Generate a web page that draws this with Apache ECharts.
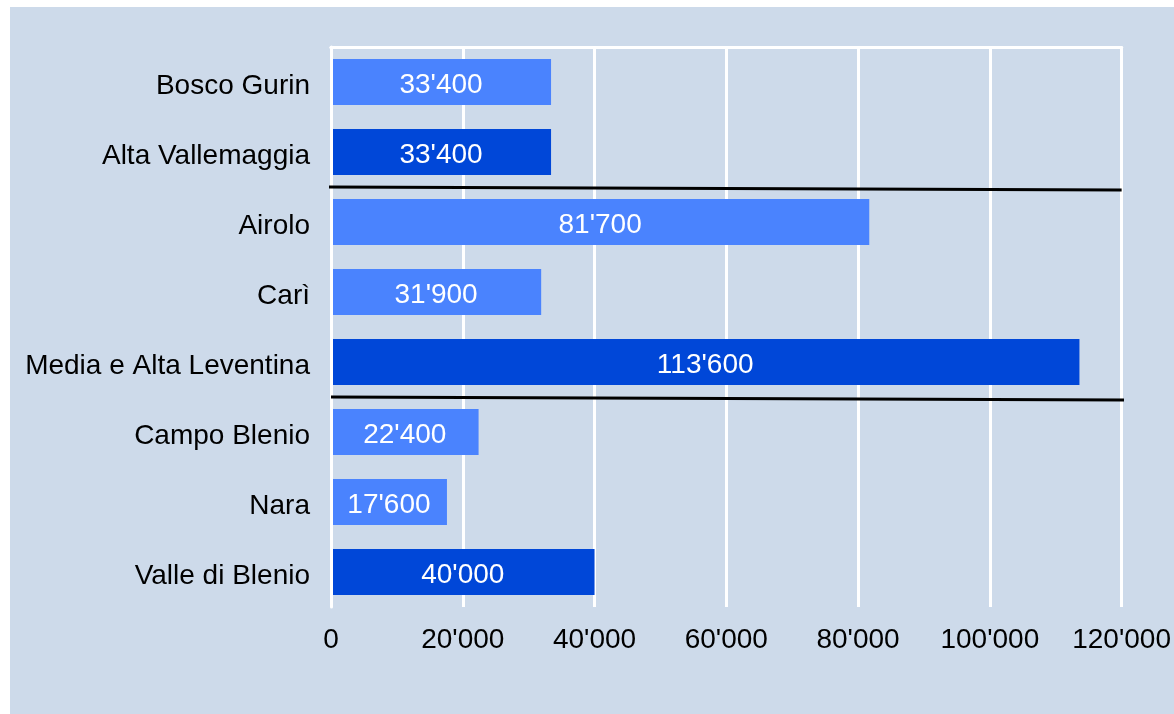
<!DOCTYPE html>
<html><head><meta charset="utf-8">
<script src="https://cdn.jsdelivr.net/npm/echarts@6/dist/echarts.min.js"></script>
<style>html,body{margin:0;padding:0;background:#fff}#c{width:1174px;height:714px}</style>
</head><body><div id="c"></div>
<script>
const categories = ['Bosco Gurin','Alta Vallemaggia','Airolo','Carì','Media e Alta Leventina','Campo Blenio','Nara','Valle di Blenio'];
const communeValues = [33400, '-', 81700, 31900, '-', 22400, 17600, '-'];
const regionValues = ['-', 33400, '-', '-', 113600, '-', '-', 40000];
const xTicks = [0, 20000, 40000, 60000, 80000, 100000, 120000];
const separators = [
  [[-400, 2], [120000, 2.043]],
  [[0, 5], [120400, 5.043]]
];

function fmt(v){ return String(Math.round(v)).replace(/\B(?=(\d{3})+(?!\d))/g, "'"); }

const chart = echarts.init(document.getElementById('c'));
const font = 'Liberation Sans, Arial, Helvetica, sans-serif';
const FS = 28;
const sepSeries = separators.map(seg => ({
  type: 'line', xAxisIndex: 0, yAxisIndex: 1, data: seg, symbol: 'none', clip: false,
  lineStyle: { color: '#000', width: 3 }, z: 5, silent: true
}));
chart.setOption({
  backgroundColor: '#ffffff',
  graphic: [{ type: 'rect', shape: { x: 10, y: 7, width: 1164, height: 707 }, style: { fill: '#cddaea' }, z: -10, silent: true }],
  grid: { left: 331, right: 52, top: 47, bottom: 107 },
  xAxis: [{
    type: 'value', min: xTicks[0], max: xTicks[xTicks.length - 1], interval: 20000,
    axisLine: { show: true, lineStyle: { color: '#ffffff', width: 3 } },
    axisTick: { show: true, length: 6, lineStyle: { color: '#ffffff', width: 3 } },
    splitLine: { show: true, lineStyle: { color: '#ffffff', width: 3 } },
    axisLabel: { color: '#000', fontSize: FS, fontFamily: font, margin: 19, formatter: v => fmt(v) }
  }, {
    type: 'value', position: 'top', min: xTicks[0], max: xTicks[xTicks.length - 1],
    axisLine: { show: true, lineStyle: { color: '#ffffff', width: 3 } },
    axisTick: { show: false }, splitLine: { show: false }, axisLabel: { show: false }
  }],
  yAxis: [{
    type: 'category', data: categories, inverse: true, z: 3,
    axisLine: { show: true, lineStyle: { color: '#ffffff', width: 3 } },
    axisTick: { show: false },
    axisLabel: {
      color: '#000', fontSize: FS, fontFamily: font, margin: 21,
      formatter: v => '{t|' + v + '}',
      rich: { t: { color: '#000', fontSize: FS, fontFamily: font, padding: [8, 0, 0, 0] } }
    }
  }, {
    type: 'value', min: 0, max: 8, inverse: true, show: false
  }],
  series: [{
    type: 'bar', stack: 'a', data: communeValues, barWidth: 46,
    itemStyle: { color: '#4a83fe' },
    label: { show: true, position: 'inside', offset: [0, 3], color: '#fff', fontSize: FS, fontFamily: font, formatter: p => fmt(p.value) }
  }, {
    type: 'bar', stack: 'a', data: regionValues, barWidth: 46,
    itemStyle: { color: '#0047d8' },
    label: { show: true, position: 'inside', offset: [0, 3], color: '#fff', fontSize: FS, fontFamily: font, formatter: p => fmt(p.value) }
  }].concat(sepSeries),
  animation: false
});
</script></body></html>
